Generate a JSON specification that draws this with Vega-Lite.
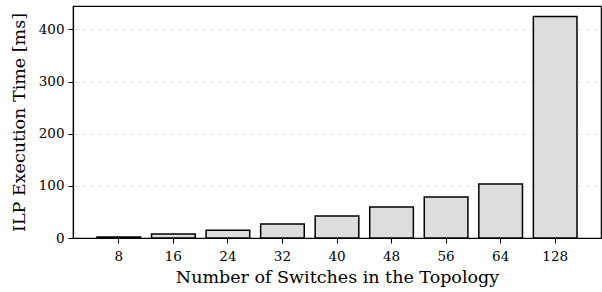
{
  "$schema": "https://vega.github.io/schema/vega-lite/v6.json",
  "autosize": {"type": "none"},
  "padding": {"left": 73, "top": 6, "right": 1, "bottom": 54},
  "width": 528,
  "height": 232,
  "background": "white",
  "config": {
    "view": {"stroke": "black", "strokeWidth": 1.2},
    "font": "DejaVu Serif",
    "axis": {
      "labelFont": "DejaVu Serif",
      "titleFont": "DejaVu Serif",
      "labelFontSize": 13.5,
      "titleFontSize": 17.5,
      "titleFontWeight": "normal",
      "labelColor": "black",
      "titleColor": "black",
      "domainColor": "black",
      "tickColor": "black",
      "domainWidth": 1.2,
      "tickWidth": 1,
      "tickSize": 5
    }
  },
  "data": {
    "values": [
      {"switches": "8", "time": 2},
      {"switches": "16", "time": 7.7},
      {"switches": "24", "time": 14.8},
      {"switches": "32", "time": 26.8},
      {"switches": "40", "time": 42.2},
      {"switches": "48", "time": 59.4},
      {"switches": "56", "time": 78.6},
      {"switches": "64", "time": 103.5},
      {"switches": "128", "time": 425}
    ]
  },
  "mark": {"type": "bar", "fill": "#dcdddc", "stroke": "black", "strokeWidth": 1.5},
  "encoding": {
    "x": {
      "field": "switches",
      "type": "ordinal",
      "sort": null,
      "scale": {"paddingInner": 0.2, "paddingOuter": 0.44},
      "axis": {"title": "Number of Switches in the Topology", "labelAngle": 0, "labelPadding": 6, "titlePadding": 6}
    },
    "y": {
      "field": "time",
      "type": "quantitative",
      "scale": {"domain": [0, 445], "nice": false},
      "axis": {
        "title": "ILP Execution Time [ms]",
        "values": [0, 100, 200, 300, 400],
        "grid": true,
        "gridColor": "#dddddd",
        "gridDash": [5, 3],
        "gridWidth": 0.8,
        "labelPadding": 4,
        "titlePadding": 10
      }
    }
  }
}
